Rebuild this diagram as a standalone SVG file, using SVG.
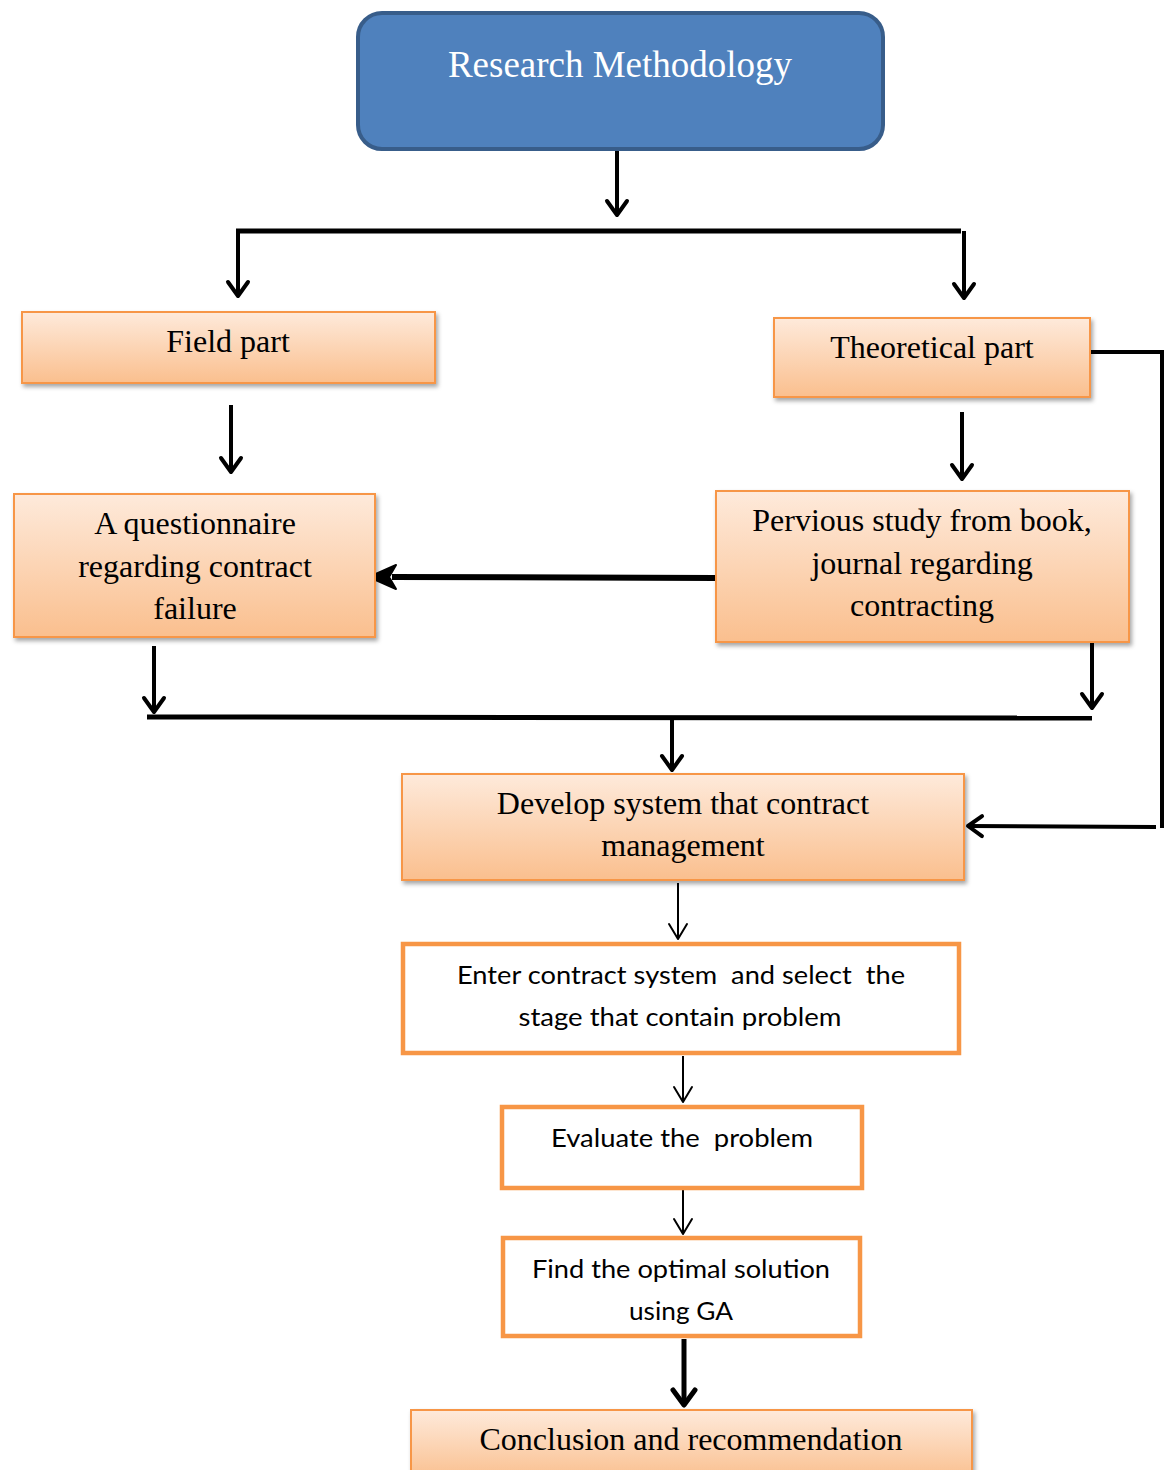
<svg xmlns="http://www.w3.org/2000/svg" width="1165" height="1470" viewBox="0 0 1165 1470">
<style>
.serif{font-family:"Liberation Serif","Times New Roman",serif;font-size:32px;fill:#000;text-anchor:middle}
.sans{font-family:Lato,"Open Sans",sans-serif;font-size:25px;fill:#000;text-anchor:middle}
.ob{fill:url(#og);stroke:#F79646;stroke-width:2;filter:url(#sh)}
.wb{fill:#fff;stroke:#F79646;stroke-width:4.5}
.c{fill:none;stroke:#000;stroke-width:4}
.ct{fill:none;stroke:#000;stroke-width:2}
.ck{fill:none;stroke:#000;stroke-width:5}
</style>
<defs>
<linearGradient id="og" x1="0" y1="0" x2="0" y2="1">
<stop offset="0" stop-color="#FEEADB"/>
<stop offset="1" stop-color="#FABF8E"/>
</linearGradient>
<filter id="sh" x="-5%" y="-10%" width="115%" height="130%">
<feDropShadow dx="2" dy="3" stdDeviation="2" flood-color="#000" flood-opacity="0.35"/>
</filter>
<marker id="ch" markerUnits="userSpaceOnUse" viewBox="-20 -15 25 30" refX="0" refY="0" markerWidth="25" markerHeight="30" orient="auto" overflow="visible">
<path d="M-14,-10 L0,0 L-14,10" fill="none" stroke="#000" stroke-width="4" stroke-linecap="round" stroke-linejoin="round"/>
</marker>
<marker id="chk" markerUnits="userSpaceOnUse" viewBox="-20 -15 25 30" refX="0" refY="0" markerWidth="25" markerHeight="30" orient="auto" overflow="visible">
<path d="M-15,-11 L0,0 L-15,11" fill="none" stroke="#000" stroke-width="5" stroke-linecap="round" stroke-linejoin="round"/>
</marker>
<marker id="cht" markerUnits="userSpaceOnUse" viewBox="-20 -15 25 30" refX="0" refY="0" markerWidth="25" markerHeight="30" orient="auto" overflow="visible">
<path d="M-15,-9 L0,0 L-15,9" fill="none" stroke="#000" stroke-width="2" stroke-linecap="round" stroke-linejoin="round"/>
</marker>
</defs>
<rect width="1165" height="1470" fill="#fff"/>

<g id="connectors">
<path class="c" d="M617,150 V215" marker-end="url(#ch)"/>
<path class="ck" d="M236,231 H961"/>
<path class="c" d="M238,231 V296" marker-end="url(#ch)"/>
<path class="c" d="M964,231 V298" marker-end="url(#ch)"/>
<path class="c" d="M231,405 V472" marker-end="url(#ch)"/>
<path class="c" d="M962,412 V479" marker-end="url(#ch)"/>
<path d="M716,578 L392,577" fill="none" stroke="#000" stroke-width="6"/>
<path d="M369,577 L396,565 L389,577 L396,589 Z" fill="#000" stroke="#000" stroke-width="2" stroke-linejoin="round"/>
<path class="c" d="M154,646 V712" marker-end="url(#ch)"/>
<path class="c" d="M1092,642 V708" marker-end="url(#ch)"/>
<path class="ck" d="M147,717 L1092,718"/>
<path class="c" d="M672,717 V770" marker-end="url(#ch)"/>
<path class="c" d="M1090,352 H1162 V828"/>
<path class="c" d="M1156,827 L968,826" marker-end="url(#ch)"/>
<path class="ct" d="M678,883 V939" marker-end="url(#cht)"/>
<path class="ct" d="M683,1056 V1102" marker-end="url(#cht)"/>
<path class="ct" d="M683,1190 V1234" marker-end="url(#cht)"/>
<path class="ck" d="M684,1339 V1405" marker-end="url(#chk)"/>
</g>

<g id="research-methodology">
<rect x="358" y="13" width="525" height="136" rx="24" ry="24" fill="#4F81BD" stroke="#385D8A" stroke-width="4"/>
<text x="620" y="77" font-family="Liberation Serif,Times New Roman,serif" font-size="37" fill="#fff" text-anchor="middle">Research Methodology</text>
</g>

<g id="field-part">
<rect class="ob" x="22" y="312" width="413" height="71"/>
<text class="serif" x="228" y="352">Field part</text>
</g>

<g id="theoretical-part">
<rect class="ob" x="774" y="318" width="316" height="79"/>
<text class="serif" x="932" y="358">Theoretical part</text>
</g>

<g id="questionnaire">
<rect class="ob" x="14" y="494" width="361" height="143"/>
<text class="serif" x="195" y="534">A questionnaire</text>
<text class="serif" x="195" y="577">regarding contract</text>
<text class="serif" x="195" y="619">failure</text>
</g>

<g id="previous-study">
<rect class="ob" x="716" y="491" width="413" height="151"/>
<text class="serif" x="922" y="531">Pervious study from book,</text>
<text class="serif" x="922" y="574">journal regarding</text>
<text class="serif" x="922" y="616">contracting</text>
</g>

<g id="develop-system">
<rect class="ob" x="402" y="774" width="562" height="106"/>
<text class="serif" x="683" y="814">Develop system that contract</text>
<text class="serif" x="683" y="856">management</text>
</g>

<g id="enter-contract">
<rect class="wb" x="403" y="944" width="556" height="109"/>
<text class="sans" x="681" y="984" xml:space="preserve" textLength="448" lengthAdjust="spacingAndGlyphs">Enter contract system  and select  the</text>
<text class="sans" x="680" y="1026" textLength="323" lengthAdjust="spacingAndGlyphs">stage that contain problem</text>
</g>

<g id="evaluate">
<rect class="wb" x="502" y="1107" width="360" height="81"/>
<text class="sans" x="682" y="1147" xml:space="preserve" textLength="262" lengthAdjust="spacingAndGlyphs">Evaluate the  problem</text>
</g>

<g id="find-optimal">
<rect class="wb" x="503" y="1238" width="357" height="98"/>
<text class="sans" x="681" y="1278" textLength="298" lengthAdjust="spacingAndGlyphs">Find the optimal solution</text>
<text class="sans" x="681" y="1320" textLength="104" lengthAdjust="spacingAndGlyphs">using GA</text>
</g>

<g id="conclusion">
<rect class="ob" x="411" y="1410" width="561" height="70"/>
<text class="serif" x="691" y="1450">Conclusion and recommendation</text>
</g>
</svg>
